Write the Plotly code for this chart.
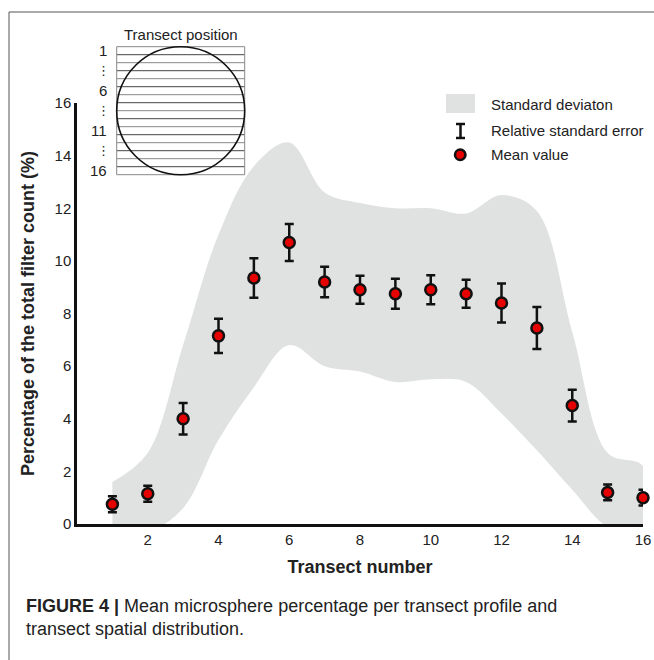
import plotly.graph_objects as go

W, H = 654, 660

# ---------------- data ----------------
transects = list(range(1, 17))
mean_values = [0.75, 1.15, 4.0, 7.15, 9.35, 10.7, 9.2, 8.9, 8.75, 8.9, 8.75, 8.4, 7.45, 4.5, 1.2, 1.0]
rel_std_err = [0.3, 0.3, 0.6, 0.65, 0.75, 0.7, 0.58, 0.53, 0.57, 0.55, 0.53, 0.74, 0.8, 0.6, 0.3, 0.3]
sd_upper = [1.6, 2.7, 6.8, 11.0, 13.6, 14.5, 12.6, 12.2, 12.0, 12.0, 11.8, 12.5, 11.9, 7.3, 2.7, 2.2]
sd_lower = [-0.3, -0.3, 0.6, 3.2, 5.2, 6.8, 6.0, 5.8, 5.4, 5.5, 5.4, 4.2, 2.8, 1.3, -0.1, -0.3]
x_ticks = [2, 4, 6, 8, 10, 12, 14, 16]
y_ticks = [0, 2, 4, 6, 8, 10, 12, 14, 16]
inset_labels = {1: "1", 6: "6", 11: "11", 16: "16"}
n_transects = 16

FONT = "Liberation Sans, Arial, sans-serif"
TXT = "#222"

# plot area in window pixels
L, R, T, B = 77, 643, 103, 524


def px(x):
    return (x - L) / (R - L)


def py(y):
    return (B - y) / (B - T)


fig = go.Figure()

# standard deviation band
band_x = transects + transects[::-1]
band_y = sd_upper + sd_lower[::-1]
fig.add_trace(go.Scatter(
    x=band_x, y=band_y, fill="toself", fillcolor="#e0e1e1",
    line=dict(color="rgba(0,0,0,0)", width=0, shape="spline", smoothing=1.0),
    mode="lines", hoverinfo="skip", showlegend=False,
))

# means with error bars
fig.add_trace(go.Scatter(
    x=transects, y=mean_values, mode="markers",
    marker=dict(size=11, color="#e60000", line=dict(color="#111", width=2.5)),
    error_y=dict(type="data", array=rel_std_err, color="#111", thickness=2.5, width=4.5),
    cliponaxis=False, showlegend=False,
))

fig.update_layout(
    width=W, height=H,
    margin=dict(l=L, r=W - R, t=T, b=H - B, autoexpand=False),
    paper_bgcolor="white", plot_bgcolor="white",
    showlegend=False,
    xaxis=dict(
        range=[0, 16], tickvals=x_ticks, ticks="", showgrid=False, zeroline=False,
        showline=True, linecolor="#111", linewidth=2.5,
        tickfont=dict(family=FONT, size=15, color=TXT),
        title=dict(text="<b>Transect number</b>", font=dict(family=FONT, size=18, color=TXT), standoff=14),
        automargin=False,
    ),
    yaxis=dict(
        range=[0, 16], tickvals=y_ticks, ticks="", showgrid=False, zeroline=False,
        showline=True, linecolor="#111", linewidth=2.5,
        tickfont=dict(family=FONT, size=15, color=TXT),
        title=dict(text="<b>Percentage of the total filter count (%)</b>", font=dict(family=FONT, size=18, color=TXT), standoff=16),
        automargin=False,
    ),
)

shapes = []
# inset: transect strips (box 116.7..244.7 x 46.7..174.7 px)
bx0, bx1, by0, by1 = 116.7, 244.7, 46.7, 174.7
step = (by1 - by0) / n_transects
for i in range(n_transects + 1):
    yy = by0 + i * step
    shapes.append(dict(type="line", xref="paper", yref="paper", x0=px(bx0), x1=px(bx1), y0=py(yy), y1=py(yy),
                       line=dict(color="#444" if i % 2 else "#888", width=1)))
for xx in (bx0, bx1):
    shapes.append(dict(type="line", xref="paper", yref="paper", x0=px(xx), x1=px(xx), y0=py(by0), y1=py(by1),
                       line=dict(color="#888", width=1)))
shapes.append(dict(type="circle", xref="paper", yref="paper", x0=px(bx0), x1=px(bx1), y0=py(by1), y1=py(by0),
                   line=dict(color="#111", width=1.6)))

# legend symbols
shapes.append(dict(type="rect", xref="paper", yref="paper", x0=px(446), x1=px(475), y0=py(113), y1=py(94),
                   fillcolor="#e0e1e1", line=dict(width=0)))
shapes.append(dict(type="line", xref="paper", yref="paper", x0=px(460.5), x1=px(460.5), y0=py(138), y1=py(124),
                   line=dict(color="#111", width=2.5)))
for yy in (124, 138):
    shapes.append(dict(type="line", xref="paper", yref="paper", x0=px(456), x1=px(465), y0=py(yy), y1=py(yy),
                       line=dict(color="#111", width=2.5)))
shapes.append(dict(type="circle", xref="paper", yref="paper", x0=px(455), x1=px(465.5), y0=py(160), y1=py(149.5),
                   fillcolor="#e60000", line=dict(color="#111", width=2.5)))

# frame
shapes.append(dict(type="line", xref="paper", yref="paper", x0=px(9), x1=px(654), y0=py(12), y1=py(12), line=dict(color="#555", width=1)))
shapes.append(dict(type="line", xref="paper", yref="paper", x0=px(9), x1=px(9), y0=py(12), y1=py(660), line=dict(color="#555", width=1)))
fig.update_layout(shapes=shapes)

ann = []
ann.append(dict(text="Transect position", xref="paper", yref="paper", x=px(180.7), y=py(35), showarrow=False,
                xanchor="center", yanchor="middle", font=dict(family=FONT, size=15, color=TXT)))
for t, lab in inset_labels.items():
    ann.append(dict(text=lab, xref="paper", yref="paper", x=px(109), y=py(by0 + (t - 0.5) * step), showarrow=False,
                    xanchor="right", yanchor="middle", font=dict(family=FONT, size=15, color=TXT)))
keys = sorted(inset_labels)
for a, b in zip(keys[:-1], keys[1:]):
    ann.append(dict(text="⋮", xref="paper", yref="paper", x=px(103.5), y=py(by0 + ((a + b) / 2 - 0.5) * step),
                    showarrow=False, xanchor="center", yanchor="middle",
                    font=dict(family="DejaVu Sans", size=13, color=TXT)))

for txt, yy in (("Standard deviaton", 104), ("Relative standard error", 130), ("Mean value", 154)):
    ann.append(dict(text=txt, xref="paper", yref="paper", x=px(489), y=py(yy), showarrow=False,
                    xanchor="left", yanchor="middle", font=dict(family=FONT, size=15, color=TXT)))

ann.append(dict(text="<b>FIGURE 4 |</b> Mean microsphere percentage per transect profile and<br>transect spatial distribution.",
                xref="paper", yref="paper", x=px(24), y=py(594), showarrow=False, xanchor="left", yanchor="top",
                align="left", font=dict(family=FONT, size=18, color=TXT)))
fig.update_layout(annotations=ann)

# remove the default page margin so the 654x660 figure fills the window exactly
page_fix = ("document.documentElement.style.overflow='hidden';"
            "document.body.style.overflow='hidden';document.body.style.margin='0';")
fig.write_html("out.html", post_script=page_fix, config={"displayModeBar": False})
